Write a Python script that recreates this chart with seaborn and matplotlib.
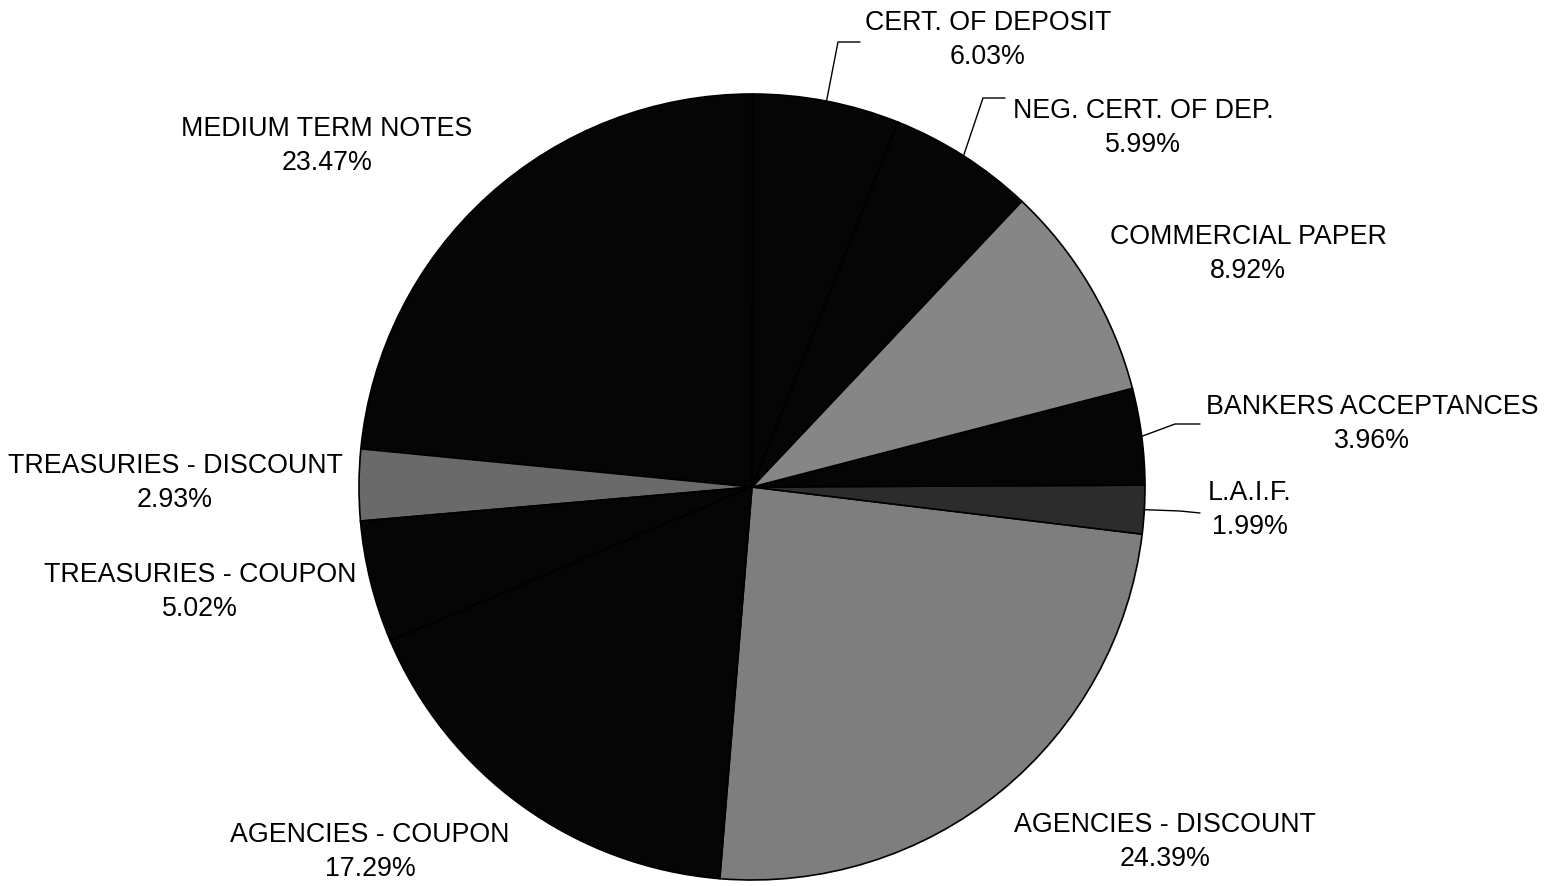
import numpy as np
import matplotlib.pyplot as plt
import seaborn as sns

# Portfolio composition (counterclockwise from the bottom)
categories = [
    "AGENCIES - DISCOUNT",
    "L.A.I.F.",
    "BANKERS ACCEPTANCES",
    "COMMERCIAL PAPER",
    "NEG. CERT. OF DEP.",
    "CERT. OF DEPOSIT",
    "MEDIUM TERM NOTES",
    "TREASURIES - DISCOUNT",
    "TREASURIES - COUPON",
    "AGENCIES - COUPON",
]
shares = [24.39, 1.99, 3.96, 8.92, 5.99, 6.03, 23.47, 2.93, 5.02, 17.29]

# Style
sns.set_style("white")
plt.rcParams["font.family"] = ["Liberation Sans", "DejaVu Sans"]

colors = ["#7e7e7e", "#2c2c2c", "#050505", "#868686", "#050505",
          "#050505", "#050505", "#6a6a6a", "#050505", "#050505"]

W, H = 1554, 886
CX, CY, R = 752, 487, 393


def px(x, y):
    # pixel position -> data coords (pie radius = 1)
    return (x - CX) / R, (CY - y) / R


fig = plt.figure(figsize=(W / 100, H / 100), dpi=100)
ax = fig.add_axes([0, 0, 1, 1])

wedges, _ = ax.pie(
    shares,
    colors=colors,
    startangle=-94.7,
    counterclock=True,
    radius=1,
    wedgeprops=dict(edgecolor="black", linewidth=1.2),
)

ax.set_xlim(-CX / R, (W - CX) / R)
ax.set_ylim(-(H - CY) / R, CY / R)
ax.set_aspect("equal")
ax.axis("off")

# label block centres (pixels)
label_pos = {
    "AGENCIES - DISCOUNT": (1165, 842),
    "L.A.I.F.": (1250, 510),
    "BANKERS ACCEPTANCES": (1372, 424),
    "COMMERCIAL PAPER": (1248, 254),
    "NEG. CERT. OF DEP.": (1143, 128),
    "CERT. OF DEPOSIT": (988, 40),
    "MEDIUM TERM NOTES": (327, 146),
    "TREASURIES - DISCOUNT": (175, 483),
    "TREASURIES - COUPON": (200, 592),
    "AGENCIES - COUPON": (370, 852),
}

# leader line bends (pixels): kink point, end point
leaders = {
    "L.A.I.F.": [(1180, 511), (1200, 513)],
    "BANKERS ACCEPTANCES": [(1175, 424), (1200, 424)],
    "NEG. CERT. OF DEP.": [(983, 98), (1005, 98)],
    "CERT. OF DEPOSIT": [(838, 42), (860, 42)],
}

for w, cat, val in zip(wedges, categories, shares):
    x, y = px(*label_pos[cat])
    ax.text(x, y, f"{cat}\n{val:.2f}%", ha="center", va="center",
            fontsize=19.3, linespacing=1.42, color="black")
    if cat in leaders:
        mid = np.deg2rad((w.theta1 + w.theta2) / 2)
        pts = [(np.cos(mid), np.sin(mid))] + [px(*p) for p in leaders[cat]]
        xs, ys = zip(*pts)
        ax.plot(xs, ys, color="black", linewidth=1)

plt.savefig("out.png", dpi=100, facecolor="white")
plt.close()
